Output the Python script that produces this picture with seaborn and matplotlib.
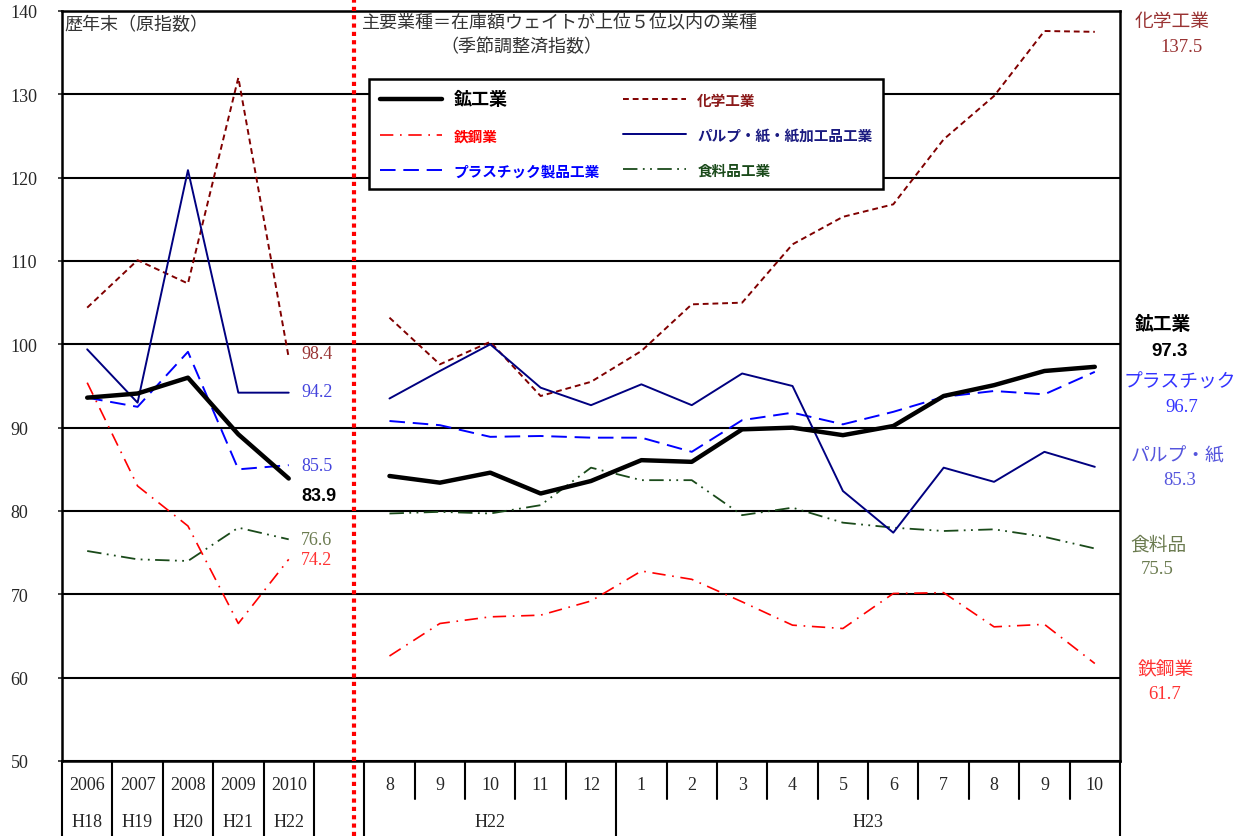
import numpy as np
import pandas as pd
import matplotlib
matplotlib.use('Agg')
import matplotlib.pyplot as plt
import seaborn as sns
from matplotlib.transforms import blended_transform_factory

# categories along x (index 5 is the empty separator column)
top_labels = ['2006', '2007', '2008', '2009', '2010', '',
              '8', '9', '10', '11', '12', '1', '2', '3', '4', '5', '6', '7', '8', '9', '10']
annual_era = ['H18', 'H19', 'H20', 'H21', 'H22']
month_era = ['H22', 'H23']
annual_pos = [0, 1, 2, 3, 4]
month_pos = list(range(6, 21))

names = ['鉱工業', '化学工業', '鉄鋼業', 'パルプ・紙・紙加工品工業', 'プラスチック製品工業', '食料品工業']

# annual (raw index, year end)
mining_a = [93.6, 94.1, 96.0, 89.2, 83.9]
chem_a = [104.4, 110.1, 107.3, 132.0, 98.4]
steel_a = [95.4, 83.0, 78.2, 66.5, 74.2]
pulp_a = [99.4, 93.0, 120.9, 94.2, 94.2]
plastic_a = [93.6, 92.5, 99.1, 85.0, 85.5]
food_a = [75.2, 74.2, 74.0, 78.0, 76.6]

# monthly (seasonally adjusted), H22/8 .. H23/10
mining_m = [84.2, 83.4, 84.6, 82.1, 83.6, 86.1, 85.9, 89.8, 90.0, 89.1, 90.2, 93.8, 95.1, 96.8, 97.3]
chem_m = [103.2, 97.6, 100.3, 93.8, 95.5, 99.2, 104.8, 105.0, 112.0, 115.3, 116.8, 124.6, 129.8, 137.6, 137.5]
steel_m = [62.6, 66.5, 67.3, 67.5, 69.2, 72.8, 71.8, 69.1, 66.3, 65.9, 70.1, 70.2, 66.1, 66.4, 61.7]
pulp_m = [93.5, 96.8, 100.0, 94.8, 92.7, 95.2, 92.7, 96.5, 95.0, 82.4, 77.4, 85.2, 83.5, 87.1, 85.3]
plastic_m = [90.8, 90.3, 88.9, 89.0, 88.8, 88.8, 87.1, 90.9, 91.8, 90.4, 91.9, 93.7, 94.4, 94.0, 96.7]
food_m = [79.7, 79.9, 79.7, 80.7, 85.2, 83.7, 83.7, 79.5, 80.4, 78.6, 78.0, 77.6, 77.8, 76.9, 75.5]

annual = [mining_a, chem_a, steel_a, pulp_a, plastic_a, food_a]
monthly = [mining_m, chem_m, steel_m, pulp_m, plastic_m, food_m]

colors = ['black', '#800000', '#ff0000', '#000080', '#0000ff', '#1a4a1a']
widths = [3.2, 1.4, 1.2, 1.4, 1.4, 1.3]
styles = ['-', (0, (3, 2)), (0, (8, 4, 1, 4)), '-', (0, (8, 4)), (0, (8, 3, 1, 3, 1, 3))]

sns.set_style('white')
plt.rcParams['font.family'] = ['Liberation Serif', 'Noto Sans CJK JP']
JP = 'Noto Sans CJK JP'

fig = plt.figure(figsize=(12.47, 8.37), dpi=100)
ax = fig.add_axes([62 / 1247, 75 / 837, 1058 / 1247, 750 / 837])

order = [1, 5, 2, 4, 3, 0]  # draw thick black last
for i in order:
    sns.lineplot(x=annual_pos, y=annual[i], ax=ax, color=colors[i], lw=widths[i],
                 linestyle=styles[i], zorder=3)
    sns.lineplot(x=month_pos, y=monthly[i], ax=ax, color=colors[i], lw=widths[i],
                 linestyle=styles[i], label=names[i], zorder=3)

ax.set_xlim(-0.5, 20.5)
ax.set_ylim(50, 140)
ax.set_yticks(range(50, 141, 10))
ax.set_xticks([])
ax.set_xlabel('')
ax.set_ylabel('')
ax.yaxis.grid(True, color='black', lw=1.5, zorder=1)
ax.set_axisbelow(True)
for s in ax.spines.values():
    s.set_color('black')
    s.set_linewidth(1.8)
ax.tick_params(axis='y', left=True, length=3, width=1.2, pad=34, labelsize=13)
for t in ax.get_yticklabels():
    t.set_ha('left')

# legend (3 rows x 2 cols)
h, l = ax.get_legend_handles_labels()
hd = dict(zip(l, h))
leg_order = [names[0], names[2], names[4], names[1], names[3], names[5]]
leg = ax.legend([hd[n] for n in leg_order], leg_order, ncol=2, loc='upper left',
                bbox_to_anchor=(0.2836, 0.7667, 0.499, 0.152), mode='expand',
                prop={'family': JP, 'weight': 'bold', 'size': 10.5},
                handlelength=4.3, labelspacing=1.3, borderpad=0.7,
                frameon=True, fancybox=False, framealpha=1, edgecolor='black')
leg.get_frame().set_linewidth(1.8)
leg.set_zorder(5)
leg_colors = ['black', '#ff0000', '#0000ff', '#8b1a1a', '#1a1a80', '#1a4a1a']
for t, c in zip(leg.get_texts(), leg_colors):
    t.set_color(c)
leg.get_texts()[0].set_fontsize(13)

# table below the axis
tr = blended_transform_factory(ax.transData, ax.transAxes)
row1 = -38 / 750
row2 = -75 / 750
for i, lab in enumerate(top_labels):
    ax.text(i, -24 / 750, lab, transform=tr, ha='center', va='center', fontsize=13)
for i, lab in zip(annual_pos, annual_era):
    ax.text(i, -61 / 750, lab, transform=tr, ha='center', va='center', fontsize=13)
ax.text(8, -61 / 750, month_era[0], transform=tr, ha='center', va='center', fontsize=13)
ax.text(15.5, -61 / 750, month_era[1], transform=tr, ha='center', va='center', fontsize=13)
for b in np.arange(-0.5, 21, 1.0):
    full = b <= 5.5 or b in (10.5, 20.5)
    ax.plot([b, b], [0, row2 if full else row1], transform=tr, color='black',
            lw=1.5, clip_on=False)

# red dotted separator
ax.plot([5.3, 5.3], [row2, 1 + 12 / 750], transform=tr, color='red', lw=3,
        linestyle=(0, (1, 1)), clip_on=False, zorder=6)

# text inside the plot
def ftext(x, y, s, **kw):
    fig.text(x / 1247, 1 - y / 837, s, **kw)

ftext(64, 25, '歴年末（原指数）', family=JP, fontsize=13, color='#333333', va='center')
ftext(362, 22, '主要業種＝在庫額ウェイトが上位５位以内の業種', family=JP, fontsize=13,
      color='#333333', va='center')
ftext(440, 47, '（季節調整済指数）', family=JP, fontsize=13, color='#333333', va='center')

# end labels for the annual part
end_cols = ['black', '#993333', '#ff3333', '#4444dd', '#4444dd', '#6b7b50']
end_dy = [-12, 3, 0, 1, 0, 0]
for i in range(6):
    bold = i == 0
    ax.annotate(f'{annual[i][-1]:.1f}', (annual_pos[-1], annual[i][-1]),
                xytext=(9, end_dy[i]), textcoords='offset points', ha='left', va='center',
                fontsize=13, color=end_cols[i],
                family='Liberation Sans' if bold else 'Liberation Serif',
                weight='bold' if bold else 'normal')

# right side labels
right = [('化学工業', 1172, 22, '#993333', False), ('137.5', 1182, 47, '#993333', False),
         ('鉱工業', 1163, 325, 'black', True), ('97.3', 1170, 352, 'black', True),
         ('プラスチック', 1180, 382, '#3333ff', False), ('96.7', 1182, 408, '#3333ff', False),
         ('パルプ・紙', 1178, 456, '#5555dd', False), ('85.3', 1180, 481, '#5555dd', False),
         ('食料品', 1158, 545, '#6b7b50', False), ('75.5', 1157, 570, '#6b7b50', False),
         ('鉄鋼業', 1166, 670, '#ff3333', False), ('61.7', 1165, 695, '#ff3333', False)]
for s, x, y, c, b in right:
    fam = JP if not s[0].isdigit() else ('Liberation Sans' if b else 'Liberation Serif')
    ftext(x, y, s, family=fam, fontsize=13.5, color=c, ha='center', va='center',
          weight='bold' if b else 'normal')

fig.savefig('out.png', dpi=100)
